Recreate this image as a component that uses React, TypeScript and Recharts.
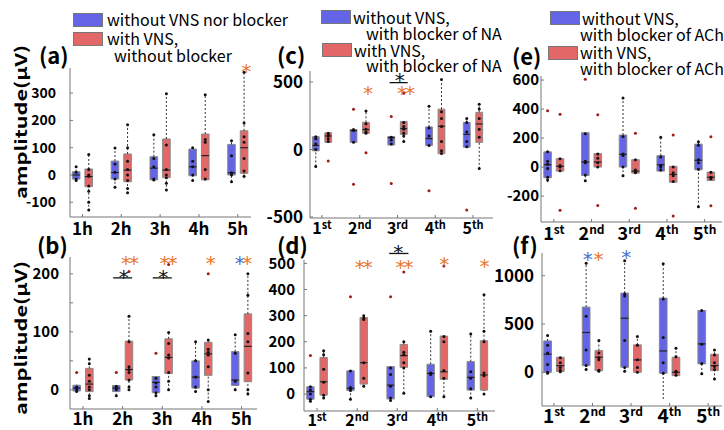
import React from 'react';
import { ComposedChart, XAxis, YAxis, Scatter, ReferenceArea, ReferenceLine, ReferenceDot } from 'recharts';

type Stat = number[]; // [min, q1, median, q3, max]
type Mark = { x: number; y: number; t: string; c: string };
type SigBar = { x1: number; x2: number; y: number };

const ORANGE = '#E8772E';
const STARBLUE = '#4A6FD0';
const BOX_BLUE = '#6464E6';
const BOX_RED = '#E36767';
const BOX_EDGE = '#8a8a8a';
const OUTLIER = '#9E1B1B';
const AXIS = '#777';
const FONT = '"Noto Sans CJK JP", "Noto Sans", sans-serif';

const hourLabels = ['1h', '2h', '3h', '4h', '5h'];
const ordLabels = ['1st', '2nd', '3rd', '4th', '5th'];

// (a) without VNS nor blocker / with VNS, without blocker
const aBlue: Stat[] = [[-20, -15, 0, 12, 32], [-47, -15, 9, 51, 99], [-18, -18, 25, 67, 147], [-21, -3, 30, 95, 100], [-25, 0, 8, 112, 125]];
const aRed: Stat[] = [[-131, -43, -6, 22, 77], [-70, -25, 18, 77, 184], [-58, -10, 18, 132, 298], [-18, -18, 71, 150, 294], [-12, 6, 100, 162, 376]];
const aBluePts = [[30, 10, -15, -20], [99, 40, 10, -15, -45], [147, 60, 30, -15, -18], [100, 50, 30, 0, -20], [125, 70, 8, 0, -25]];
const aRedPts = [[75, 20, 0, -5, -40, -60, -100, -128], [184, 100, 50, 20, 0, -20, -50, -65], [298, 110, 20, 0, -10, -30, -55], [294, 130, 120, 20, -15], [376, 190, 140, 120, 60, 15, -5]];
const aBlueOut = [[], [], [], [], []];
const aRedOut = [[], [], [], [], []];
const aMarks: Mark[] = [{ x: 5.19, y: 396, t: '*', c: ORANGE }];

// (b)
const bBlue: Stat[] = [[-4, -2, 3, 8, 9], [-10, -3, 3, 7.5, 8], [-10, -5, 13, 23, 23], [-5, 3, 22, 50, 84], [0, 7.5, 17, 66, 95]];
const bRed: Stat[] = [[-16, -3, 10, 37, 53], [-2, 17, 35, 84, 127], [0, 28, 56, 88, 99], [-22, 25, 62, 82, 86], [-7, 14, 75, 131, 200]];
const bBluePts = [[5, 3, 0, -3], [6, 3, 0, -10], [20, 12, 5, -5, -10], [83, 50, 22, 5, -3], [95, 63, 15, 0]];
const bRedPts = [[53, 45, 25, 15, 5, 0, -10, -15], [127, 83, 40, 35, 30, 17, 5, 0], [99, 80, 60, 55, 30, 15, 0], [86, 70, 65, 60, 40, 0, -20], [200, 163, 97, 83, 29, 0, -7]];
const bBlueOut = [[30], [30], [63], [], []];
const bRedOut = [[], [204], [216], [200], []];
const bMarks: Mark[] = [
  { x: 2.16, y: 226, t: '**', c: ORANGE }, { x: 3.13, y: 226, t: '**', c: ORANGE }, { x: 4.2, y: 226, t: '*', c: ORANGE },
  { x: 4.93, y: 226, t: '*', c: STARBLUE }, { x: 5.12, y: 226, t: '*', c: ORANGE },
  { x: 2.0, y: 201, t: '*', c: '#111' }, { x: 3.0, y: 201, t: '*', c: '#111' },
];
const bBars: SigBar[] = [{ x1: 1.76, x2: 2.24, y: 193 }, { x1: 2.76, x2: 3.24, y: 193 }];

// (c) blocker of NA
const cBlue: Stat[] = [[-125, -10, 30, 95, 95], [53, 53, 140, 148, 148], [33, 33, 88, 96, 96], [29, 29, 81, 167, 320], [17, 17, 112, 201, 232]];
const cRed: Stat[] = [[53, 53, 100, 124, 124], [120, 120, 148, 201, 285], [57, 112, 155, 208, 208], [-31, -31, 172, 299, 519], [-143, 53, 189, 275, 335]];
const cBluePts = [[95, 80, 40, 0, -125], [148, 140, 53], [90, 70, 40], [320, 160, 100, 30], [230, 200, 130, 60, 20]];
const cRedPts = [[120, 110, 100, 80, 60], [285, 190, 150, 130, 120], [200, 170, 150, 120, 100, 60], [519, 280, 230, 170, 60, -10, -30], [335, 300, 230, 150, 90, -140]];
const cBlueOut = [[], [297, -258], [244, -251], [-306], [-447]];
const cRedOut = [[-86], [-24], [416], [], []];
const cMarks: Mark[] = [{ x: 2.19, y: 448, t: '*', c: ORANGE }, { x: 3.2, y: 448, t: '**', c: ORANGE }, { x: 3.03, y: 544, t: '*', c: '#111' }];
const cBars: SigBar[] = [{ x1: 2.79, x2: 3.27, y: 495 }];

// (d)
const dBlue: Stat[] = [[-29, -20, 9, 28, 28], [-20, 13, 22, 89, 89], [-29, -19, 34, 105, 105], [-13, -10, 79, 114, 242], [-17, 15, 64, 124, 235]];
const dRed: Stat[] = [[-17, -4, 47, 140, 166], [28, 38, 120, 293, 305], [3, 102, 147, 190, 203], [-8, 56, 85, 222, 222], [-4, 15, 73, 204, 381]];
const dBluePts = [[28, 15, 0, -20, -28], [88, 25, 20, 13, -20], [100, 75, 30, -15, -25], [240, 80, 75, -10], [230, 85, 60, 20, -15]];
const dRedPts = [[166, 150, 95, 45, -5, -15], [300, 290, 285, 120, 60, 30], [200, 160, 150, 120, 100, 3], [220, 200, 90, 60, -10], [380, 240, 200, 80, 70, 0]];
const dBlueOut = [[147], [372], [372], [], []];
const dRedOut = [[], [], [467], [490], []];
const dMarks: Mark[] = [
  { x: 2.14, y: 500, t: '**', c: ORANGE }, { x: 3.16, y: 500, t: '**', c: ORANGE }, { x: 4.15, y: 513, t: '*', c: ORANGE },
  { x: 5.15, y: 505, t: '*', c: ORANGE }, { x: 3.0, y: 558, t: '*', c: '#111' },
];
const dBars: SigBar[] = [{ x1: 2.8, x2: 3.28, y: 538 }];

// (e) blocker of ACh
const eBlue: Stat[] = [[-105, -74, 16, 105, 105], [-100, -58, 35, 237, 237], [-63, 0, 88, 221, 477], [-28, -28, 16, 79, 205], [-274, -19, 47, 158, 174]];
const eRed: Stat[] = [[-28, -28, 5, 58, 58], [0, 0, 35, 93, 93], [-42, -42, -28, 51, 51], [-105, -105, -51, 5, 5], [-93, -93, -70, -35, -35]];
const eBluePts = [[105, 40, 20, -10, -70, -90], [230, 40, 30, -55, -95], [477, 210, 90, 80, 0, -60], [205, 70, 10, 0, -20], [174, 150, 50, 30, -15, -274]];
const eRedPts = [[58, 10, 0, -25], [90, 60, 30, 0], [50, -20, -30, -40], [0, -40, -60, -100], [-35, -70, -80]];
const eBlueOut = [[388], [605], [], [], []];
const eRedOut = [[365, -298], [360, -265], [233, -284], [221, -337], [209, -267]];

// (f)
const fBlue: Stat[] = [[-17, 0, 187, 325, 387], [24, 69, 412, 675, 1131], [7, 52, 560, 820, 1156], [-277, -10, 221, 768, 1124], [-17, 87, 294, 640, 640]];
const fRed: Stat[] = [[7, 7, 69, 156, 156], [17, 17, 156, 225, 329], [0, 0, 128, 284, 370], [-35, -35, 0, 156, 260], [-73, 17, 69, 187, 239]];
const fBluePts = [[380, 280, 200, 80, 0, -10], [1130, 580, 230, 70, 30], [1156, 810, 790, 330, 50, 10], [1124, 760, 360, 100, -10], [640, 290, 90, -15]];
const fRedPts = [[150, 100, 50, 20, 5], [329, 200, 150, 130, 20, 10], [370, 280, 130, 50, 0], [250, 160, 10, 0, -30], [230, 180, 100, 60, 30, -70]];
const fBlueOut = [[], [], [], [], []];
const fRedOut = [[], [], [], [], []];
const fMarks: Mark[] = [{ x: 1.85, y: 1218, t: '*', c: STARBLUE }, { x: 2.13, y: 1218, t: '*', c: ORANGE }, { x: 2.85, y: 1239, t: '*', c: STARBLUE }];

interface PanelProps {
  left: number; top: number; width: number; height: number;
  xDomain: [number, number]; yDomain: [number, number];
  yTicks: number[]; yShown: number[];
  labels: string[]; yFont: number; xFont: number; supFont: number; yGap: number; xGap: number;
  off: number; half: number;
  blue: Stat[]; red: Stat[]; bluePts: number[][]; redPts: number[][]; blueOut: number[][]; redOut: number[][];
  marks?: Mark[]; bars?: SigBar[];
}

const MT = 26, YW = 60, XH = 36;

const BoxPanel: React.FC<PanelProps> = (p) => {
  const groups = [
    { s: p.blue, pts: p.bluePts, out: p.blueOut, fill: BOX_BLUE, d: -p.off, k: 'b' },
    { s: p.red, pts: p.redPts, out: p.redOut, fill: BOX_RED, d: p.off, k: 'r' },
  ];
  const pts = groups.flatMap(g => g.pts.flatMap((vs, i) => vs.map(v => ({ x: i + 1 + g.d, y: v }))));
  const outs = groups.flatMap(g => g.out.flatMap((vs, i) => vs.map(v => ({ x: i + 1 + g.d, y: v }))));

  const els: React.ReactNode[] = [];
  groups.forEach(g => g.s.forEach((s, i) => {
    const c = i + 1 + g.d;
    const [mn, q1, md, q3, mx] = s;
    if (mx > q3) els.push(<ReferenceLine key={`wu${g.k}${i}`} segment={[{ x: c, y: q3 }, { x: c, y: mx }]} stroke="#333" strokeDasharray="2 2" ifOverflow="visible" />);
    if (mn < q1) els.push(<ReferenceLine key={`wl${g.k}${i}`} segment={[{ x: c, y: mn }, { x: c, y: q1 }]} stroke="#333" strokeDasharray="2 2" ifOverflow="visible" />);
    els.push(<ReferenceArea key={`bx${g.k}${i}`} x1={c - p.half} x2={c + p.half} y1={q1} y2={q3} fill={g.fill} fillOpacity={1} stroke={BOX_EDGE} strokeWidth={1} ifOverflow="visible" />);
    els.push(<ReferenceLine key={`md${g.k}${i}`} segment={[{ x: c - p.half, y: md }, { x: c + p.half, y: md }]} stroke="#222" strokeWidth={1.2} ifOverflow="visible" />);
  }));

  const xTick = (tp: any) => {
    const lab: string = p.labels[Math.round(tp.payload.value) - 1] || '';
    const num = lab.slice(0, 1);
    const suf = lab.slice(1);
    const isSup = suf !== 'h';
    return (
      <text x={tp.x} y={tp.y} dy="0.78em" textAnchor="middle" fill="#000" fontFamily={FONT} fontWeight={600} fontSize={p.xFont}>
        <tspan>{num}</tspan>
        {isSup ? <tspan fontSize={p.supFont} dy={-p.xFont * 0.35}>{suf}</tspan> : <tspan>{suf}</tspan>}
      </text>
    );
  };

  return (
    <div style={{ position: 'absolute', left: p.left - YW, top: p.top - MT }}>
      <ComposedChart width={YW + p.width + 2} height={MT + p.height + XH} margin={{ top: MT, right: 2, bottom: 0, left: 0 }}>
        <XAxis type="number" dataKey="x" domain={p.xDomain} ticks={[1, 2, 3, 4, 5]} interval={0} height={XH}
          axisLine={{ stroke: AXIS }} tickLine={{ stroke: AXIS }} tickSize={-3} tickMargin={p.xGap + 3} tick={xTick} />
        <YAxis type="number" dataKey="y" domain={p.yDomain} ticks={p.yTicks} interval={0} width={YW}
          axisLine={{ stroke: AXIS }} tickLine={{ stroke: AXIS }} tickSize={-3} tickMargin={p.yGap + 3}
          tickFormatter={(v: number) => (p.yShown.includes(v) ? String(v) : '')}
          tick={{ fill: '#000', fontSize: p.yFont, fontWeight: 700, fontFamily: FONT }} />
        {els}
        <Scatter data={pts} fill="#111" isAnimationActive={false} shape={(s: any) => <circle cx={s.cx} cy={s.cy} r={1.5} fill="#111" />} />
        <Scatter data={outs} fill={OUTLIER} isAnimationActive={false} shape={(s: any) => <circle cx={s.cx} cy={s.cy} r={1.5} fill={OUTLIER} />} />
        {(p.bars || []).map((b, i) => (
          <ReferenceLine key={`sb${i}`} segment={[{ x: b.x1, y: b.y }, { x: b.x2, y: b.y }]} stroke="#111" strokeWidth={1.3} ifOverflow="visible" />
        ))}
        {(p.marks || []).map((m, i) => (
          <ReferenceDot key={`mk${i}`} x={m.x} y={m.y} r={0} ifOverflow="visible"
            shape={(s: any) => (
              <text x={s.cx} y={s.cy + 11} textAnchor="middle" fill={m.c} fontSize={20} fontFamily="DejaVu Sans" letterSpacing={-2}>{m.t}</text>
            )} />
        ))}
      </ComposedChart>
    </div>
  );
};

const Swatch: React.FC<{ left: number; top: number; color: string }> = ({ left, top, color }) => (
  <div style={{ position: 'absolute', left, top, width: 30, height: 14, background: color, border: '1px solid #777', boxSizing: 'border-box' }} />
);

const Txt: React.FC<{ left: number; cy: number; size?: number; weight?: number; children: React.ReactNode }> = ({ left, cy, size = 16, weight = 400, children }) => (
  <div style={{ position: 'absolute', left, top: cy - size * 0.55, fontSize: size, lineHeight: `${size}px`, fontWeight: weight, fontFamily: FONT, whiteSpace: 'nowrap', color: '#000' }}>{children}</div>
);

// the source figure is stretched vertically, so the rotated title is long and thin
const YTitle: React.FC<{ cx: number; cy: number }> = ({ cx, cy }) => (
  <div style={{ position: 'absolute', left: cx, top: cy, transform: 'translate(-50%, -50%) rotate(-90deg) scale(1.35, 1)', fontSize: 16, fontWeight: 600, fontFamily: FONT, whiteSpace: 'nowrap', lineHeight: '16px' }}>
    amplitude(µV)
  </div>
);

export default function App() {
  return (
    <div style={{ position: 'absolute', left: 0, top: 0, width: 724, height: 430, background: '#fff', overflow: 'hidden' }}>
      {/* legends */}
      <Swatch left={73} top={13} color={BOX_BLUE} />
      <Txt left={107} cy={20}>without VNS nor blocker</Txt>
      <Swatch left={73} top={32} color={BOX_RED} />
      <Txt left={107} cy={39}>with VNS,</Txt>
      <Txt left={114} cy={56}>without blocker</Txt>

      <Swatch left={321} top={10} color={BOX_BLUE} />
      <Txt left={353} cy={18}>without VNS,</Txt>
      <Txt left={366} cy={34}>with blocker of NA</Txt>
      <Swatch left={322} top={43} color={BOX_RED} />
      <Txt left={354} cy={51}>with VNS,</Txt>
      <Txt left={366} cy={66}>with blocker of NA</Txt>

      <Swatch left={550} top={11} color={BOX_BLUE} />
      <Txt left={582} cy={19}>without VNS,</Txt>
      <Txt left={580} cy={35}>with blocker of ACh</Txt>
      <Swatch left={548} top={46} color={BOX_RED} />
      <Txt left={580} cy={53}>with VNS,</Txt>
      <Txt left={580} cy={69}>with blocker of ACh</Txt>

      {/* panel letters */}
      <Txt left={39} cy={55} size={22} weight={600}>(a)</Txt>
      <Txt left={37} cy={245} size={22} weight={600}>(b)</Txt>
      <Txt left={277} cy={55} size={22} weight={600}>(c)</Txt>
      <Txt left={277} cy={245} size={22} weight={600}>(d)</Txt>
      <Txt left={512} cy={56} size={22} weight={600}>(e)</Txt>
      <Txt left={512} cy={245} size={22} weight={600}>(f)</Txt>

      <YTitle cx={20} cy={122} />
      <YTitle cx={20} cy={338} />

      <BoxPanel left={70} top={68} width={181} height={149} xDomain={[0.68, 5.34]} yDomain={[-154, 392]}
        yTicks={[-100, 0, 100, 200, 300]} yShown={[-100, 0, 100, 200, 300]} labels={hourLabels}
        yFont={14} xFont={17} supFont={11} yGap={14} xGap={5} off={0.162} half={0.098}
        blue={aBlue} red={aRed} bluePts={aBluePts} redPts={aRedPts} blueOut={aBlueOut} redOut={aRedOut} marks={aMarks} />

      <BoxPanel left={70} top={257} width={187} height={152} xDomain={[0.672, 5.39]} yDomain={[-33, 229]}
        yTicks={[0, 50, 100, 150, 200]} yShown={[0, 100, 200]} labels={hourLabels}
        yFont={15} xFont={17} supFont={11} yGap={11} xGap={3} off={0.16} half={0.095}
        blue={bBlue} red={bRed} bluePts={bBluePts} redPts={bRedPts} blueOut={bBlueOut} redOut={bRedOut} marks={bMarks} bars={bBars} />

      <BoxPanel left={310} top={71} width={183} height={147} xDomain={[0.682, 5.53]} yDomain={[-507, 581]}
        yTicks={[-500, 0, 500]} yShown={[-500, 0, 500]} labels={ordLabels}
        yFont={17} xFont={16} supFont={11} yGap={7} xGap={4} off={0.165} half={0.09}
        blue={cBlue} red={cRed} bluePts={cBluePts} redPts={cRedPts} blueOut={cBlueOut} redOut={cRedOut} marks={cMarks} bars={cBars} />

      <BoxPanel left={304} top={260} width={191} height={151} xDomain={[0.675, 5.44]} yDomain={[-65, 513]}
        yTicks={[0, 100, 200, 300, 400, 500]} yShown={[0, 100, 200, 300, 400, 500]} labels={ordLabels}
        yFont={15} xFont={16} supFont={11} yGap={9} xGap={3} off={0.165} half={0.092}
        blue={dBlue} red={dRed} bluePts={dBluePts} redPts={dRedPts} blueOut={dBlueOut} redOut={dRedOut} marks={dMarks} bars={dBars} />

      <BoxPanel left={541} top={76} width={181} height={146} xDomain={[0.66, 5.46]} yDomain={[-379, 628]}
        yTicks={[-200, 0, 200, 400, 600]} yShown={[-200, 0, 200, 400, 600]} labels={ordLabels}
        yFont={15} xFont={18} supFont={12} yGap={2} xGap={4} off={0.165} half={0.1}
        blue={eBlue} red={eRed} bluePts={eBluePts} redPts={eRedPts} blueOut={eBlueOut} redOut={eRedOut} />

      <BoxPanel left={542} top={253} width={180} height={153} xDomain={[0.69, 5.36]} yDomain={[-349, 1235]}
        yTicks={[0, 500, 1000]} yShown={[0, 500, 1000]} labels={ordLabels}
        yFont={17} xFont={19} supFont={12} yGap={8} xGap={2} off={0.165} half={0.1}
        blue={fBlue} red={fRed} bluePts={fBluePts} redPts={fRedPts} blueOut={fBlueOut} redOut={fRedOut} marks={fMarks} />
    </div>
  );
}
